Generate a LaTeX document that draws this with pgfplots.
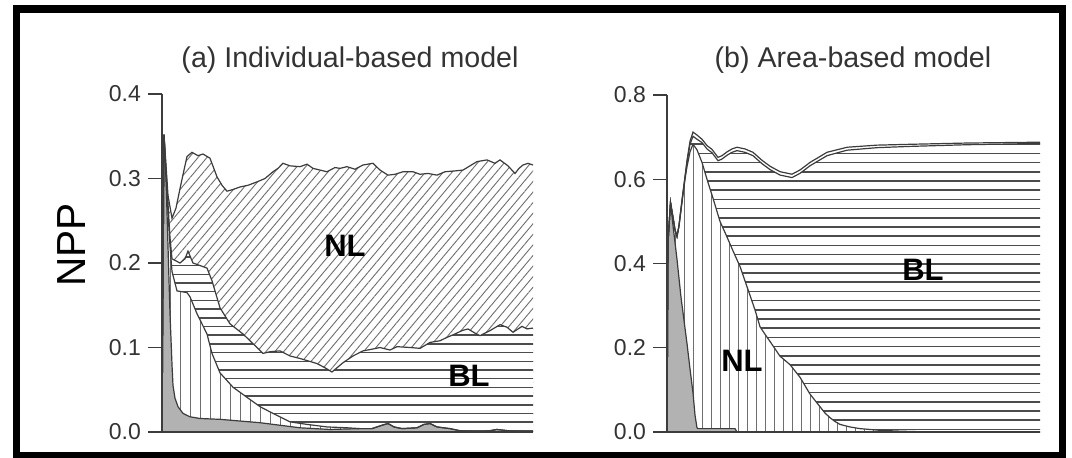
\documentclass[border=0pt]{standalone}
\usepackage{fontspec}
\setmainfont{Liberation Sans}
\usepackage{pgfplots}
\usepackage{pgfplotstable}
\pgfplotsset{compat=1.18}
\usetikzlibrary{patterns.meta}

\definecolor{lowgrey}{RGB}{178,178,178}
\definecolor{curve}{RGB}{60,60,60}
\definecolor{hatch}{RGB}{110,110,110}

% wide tiles for the horizontal hatching, so the lines have no seams
\pgfdeclarepatternformonly{hlinesA}{\pgfpoint{-1pt}{-1pt}}{\pgfpoint{101pt}{5.35pt}}{\pgfpoint{100pt}{4.35pt}}{%
  \pgfsetlinewidth{0.75pt}%
  \pgfpathmoveto{\pgfpoint{-1pt}{0pt}}\pgfpathlineto{\pgfpoint{101pt}{0pt}}\pgfusepath{stroke}}
\pgfdeclarepatternformonly{hlinesB}{\pgfpoint{-1pt}{-1pt}}{\pgfpoint{101pt}{5.6pt}}{\pgfpoint{100pt}{4.6pt}}{%
  \pgfsetlinewidth{0.75pt}%
  \pgfpathmoveto{\pgfpoint{-1pt}{0pt}}\pgfpathlineto{\pgfpoint{101pt}{0pt}}\pgfusepath{stroke}}

% ---------- panel (a): cumulative layers, t in pixel-like steps ----------
\pgfplotstableread{
t y
0 0
1 0.33
2 0.352
4 0.30
6 0.22
8 0.14
10 0.08
11 0.055
13 0.04
16 0.03
21 0.022
28 0.018
38 0.016
58 0.015
78 0.013
98 0.011
118 0.008
138 0.005
168 0.003
198 0.004
210 0.004
220 0.008
226 0.010
232 0.006
240 0.004
255 0.005
262 0.009
268 0.010
275 0.006
288 0.004
300 0.001
320 0.0
335 0.003
350 0.001
371 0.0
}\aG

\pgfplotstableread{
t y
0 0
2 0.352
5 0.28
8 0.22
10 0.19
15 0.167
25 0.165
28 0.16
35 0.14
45 0.116
50 0.093
58 0.07
71 0.053
85 0.041
98 0.03
111 0.022
128 0.012
145 0.009
165 0.006
185 0.005
198 0.004
210 0.004
220 0.008
226 0.010
232 0.006
240 0.004
255 0.005
262 0.009
268 0.010
275 0.006
288 0.004
300 0.001
320 0.0
335 0.003
350 0.001
371 0.0
}\aV

\pgfplotstableread{
t y
0 0
2 0.352
5 0.29
8 0.23
10 0.205
18 0.2
23 0.205
26 0.214
31 0.2
45 0.194
50 0.179
58 0.147
68 0.128
81 0.116
95 0.1
101 0.093
108 0.095
118 0.096
128 0.09
138 0.087
155 0.081
163 0.076
170 0.071
181 0.082
191 0.09
201 0.096
210 0.098
218 0.1
228 0.097
235 0.101
248 0.1
258 0.099
268 0.106
278 0.108
285 0.112
293 0.116
300 0.12
306 0.122
313 0.117
318 0.114
328 0.12
338 0.127
345 0.124
351 0.118
360 0.125
365 0.122
371 0.123
}\aBL

\pgfplotstableread{
t y
0 0
2 0.352
6 0.28
10 0.253
14 0.265
18 0.288
22 0.31
25 0.326
30 0.331
36 0.327
41 0.329
48 0.324
55 0.302
60 0.292
65 0.285
71 0.287
78 0.29
86 0.292
95 0.296
103 0.3
111 0.308
116 0.312
121 0.318
128 0.315
138 0.314
145 0.317
151 0.312
158 0.31
165 0.308
173 0.313
178 0.312
185 0.314
193 0.311
201 0.316
211 0.318
218 0.31
226 0.304
233 0.305
241 0.308
251 0.308
258 0.305
266 0.306
275 0.304
283 0.308
293 0.309
301 0.31
308 0.315
315 0.32
325 0.322
333 0.318
338 0.322
346 0.315
353 0.306
357 0.312
361 0.316
366 0.318
371 0.316
}\aTot

% ---------- panel (b) ----------
\pgfplotstableread{
t y
0 0
1 0.45
3.5 0.545
6 0.49
8 0.45
10 0.41
12 0.365
14 0.32
17 0.265
20 0.21
23 0.15
26 0.093
28 0.04
30 0.01
31 0.008
68 0.008
70 0.0
373 0.0
}\bG

\pgfplotstableread{
t y
0 0
1 0.45
3.5 0.545
6 0.51
8 0.48
10 0.464
12 0.49
15 0.545
18 0.60
20 0.63
23 0.665
26 0.683
30 0.67
35 0.64
40 0.60
46 0.555
53 0.50
60 0.463
66 0.43
73 0.393
80 0.345
88 0.29
93 0.25
98 0.232
103 0.215
113 0.18
123 0.16
128 0.145
133 0.13
138 0.11
143 0.09
148 0.075
153 0.06
158 0.045
163 0.034
168 0.025
173 0.018
183 0.012
193 0.008
213 0.004
233 0.002
263 0.0
373 0.0
}\bNL

\pgfplotstableread{
t y
0 0
1 0.45
3.5 0.545
6 0.51
8 0.48
10 0.464
12 0.49
15 0.55
20 0.64
23 0.683
26 0.702
30 0.695
35 0.687
40 0.672
45 0.663
51 0.644
55 0.648
60 0.657
65 0.664
70 0.668
78 0.664
86 0.656
95 0.637
103 0.623
113 0.61
125 0.604
133 0.614
143 0.632
160 0.656
180 0.669
210 0.675
243 0.678
300 0.682
373 0.685
}\bBL

\pgfplotstableread{
t y
0 0
1 0.45
3.5 0.545
6 0.51
8 0.48
10 0.464
12 0.49
15 0.55
20 0.645
23 0.69
26 0.712
30 0.705
35 0.695
40 0.68
45 0.671
51 0.652
55 0.656
60 0.665
65 0.672
70 0.676
78 0.672
86 0.664
95 0.645
103 0.631
113 0.618
125 0.612
133 0.622
143 0.64
160 0.664
180 0.676
210 0.681
243 0.683
300 0.686
373 0.688
}\bTot

\pgfplotsset{
  panel/.style={
    scale only axis,
    anchor=south west,
    axis x line=none,
    axis y line*=left,
    clip=false,
    xmin=0, ymin=0,
    tick align=outside,
    major tick length=7pt,
    y axis line style={curve, line width=0.7pt},
    ytick style={curve, line width=0.7pt},
    yticklabel style={font=\fontsize{11.5}{13}\selectfont, text=black!80},
    /pgf/number format/.cd, fixed, fixed zerofill, precision=1, assume math mode=true,
  },
  outline/.style={curve, line width=0.6pt},
}

\begin{document}
\begin{tikzpicture}
\useasboundingbox (0,0) rectangle (536pt,228.5pt);

% (a) Individual-based model
\begin{axis}[panel, at={(81pt,12.5pt)}, width=185.5pt, height=169pt,
  xmax=371, ymax=0.4, ytick={0,0.1,0.2,0.3,0.4}]
\addplot[draw=none, fill=white,
  postaction={pattern={Lines[angle=50,distance=3.4pt,line width=0.45pt]}, pattern color=hatch}]
  table {\aTot} \closedcycle;
\addplot[draw=none, fill=white,
  postaction={pattern=hlinesA, pattern color=black!70}]
  table {\aBL} \closedcycle;
\addplot[draw=none, fill=white,
  postaction={pattern={Lines[angle=90,distance=5pt,line width=0.45pt]}, pattern color=hatch}]
  table {\aV} \closedcycle;
\addplot[draw=none, fill=lowgrey] table {\aG} \closedcycle;
\addplot[outline] table {\aTot};
\addplot[outline] table {\aBL};
\addplot[outline] table {\aV};
\addplot[outline] table {\aG};
\addplot[outline] coordinates {(0,0) (371,0)};
\end{axis}

% (b) Area-based model
\begin{axis}[panel, at={(333.5pt,12.5pt)}, width=186.5pt, height=168.5pt,
  xmax=373, ymax=0.8, ytick={0,0.2,0.4,0.6,0.8}]
\addplot[draw=none, fill=white] table {\bTot} \closedcycle;
\addplot[draw=none, fill=white,
  postaction={pattern=hlinesB, pattern color=black!70}]
  table {\bBL} \closedcycle;
\addplot[draw=none, fill=white,
  postaction={pattern={Lines[angle=90,distance=4.5pt,line width=0.45pt]}, pattern color=hatch}]
  table {\bNL} \closedcycle;
\addplot[draw=none, fill=lowgrey] table {\bG} \closedcycle;
\addplot[outline] table {\bTot};
\addplot[outline] table {\bBL};
\addplot[outline] table {\bNL};
\addplot[outline] table {\bG};
\addplot[outline] coordinates {(0,0) (373,0)};
\end{axis}

% titles, labels
\node[anchor=base, font=\fontsize{14.3}{17}\selectfont, text=black!80] at (175pt,195pt) {(a) Individual-based model};
\node[anchor=base, font=\fontsize{14.3}{17}\selectfont, text=black!80] at (426.5pt,195pt) {(b) Area-based model};
\node[rotate=90, font=\fontsize{20.3}{24}\selectfont, inner sep=0pt] at (36pt,106pt) {NPP};
\node[font=\fontsize{15.5}{18}\selectfont\bfseries, inner sep=0pt] at (172.5pt,105.5pt) {NL};
\node[font=\fontsize{15.5}{18}\selectfont\bfseries, inner sep=0pt] at (234.5pt,40.5pt) {BL};
\node[font=\fontsize{15.5}{18}\selectfont\bfseries, inner sep=0pt] at (461.5pt,93.5pt) {BL};
\node[font=\fontsize{15.5}{18}\selectfont\bfseries, inner sep=0pt] at (371pt,48pt) {NL};

% frame
\draw[line width=3.8pt] (8.25pt,0.5pt) rectangle (531.25pt,224pt);
\end{tikzpicture}
\end{document}
